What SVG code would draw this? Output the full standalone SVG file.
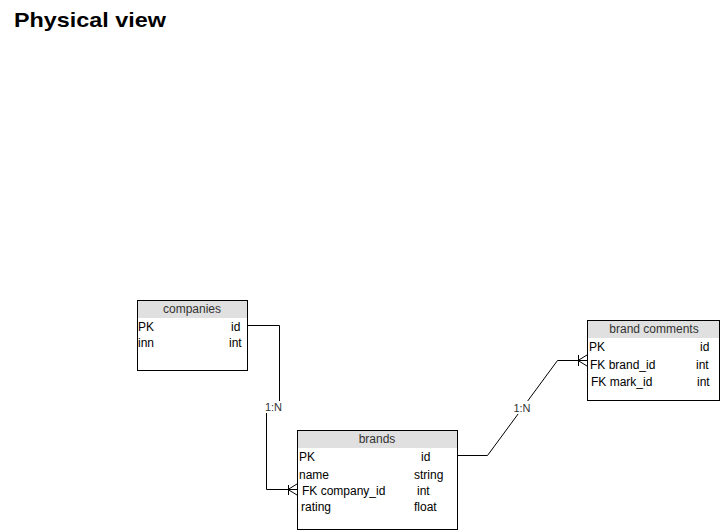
<svg xmlns="http://www.w3.org/2000/svg" width="721" height="531" viewBox="0 0 721 531">
<style>
text{font-family:"Liberation Sans",Arial,sans-serif;font-size:12px;fill:#000}
.hd{fill:#e0e0e0;stroke:none}
.bx{fill:#fff;stroke:#000;stroke-width:1}
.ht{text-anchor:middle;fill:#333}
.lbl{font-size:11px;text-anchor:middle;fill:#333}
.ln{fill:none;stroke:#000;stroke-width:1}
</style>
<rect width="721" height="531" fill="#fff"/>
<text x="14" y="27" style="font-size:21px;font-weight:bold" textLength="152" lengthAdjust="spacingAndGlyphs">Physical view</text>
<g id="companies">
<rect class="bx" x="137.5" y="300.5" width="110" height="70"/>
<rect class="hd" x="138" y="301" width="109" height="17"/>
<line class="ln" x1="137.5" y1="318" x2="137.5" y2="370"/>
<text class="ht" x="192" y="313">companies</text>
<text x="138" y="331">PK</text><text x="231" y="331">id</text>
<text x="138" y="347">inn</text><text x="229" y="347">int</text>
</g>
<g id="brands">
<rect class="bx" x="297.5" y="430.5" width="160" height="99"/>
<rect class="hd" x="298" y="431" width="159" height="17"/>
<text class="ht" x="377" y="443">brands</text>
<text x="299" y="461">PK</text><text x="421" y="461">id</text>
<text x="299" y="479">name</text><text x="414" y="479">string</text>
<text x="302" y="495">FK company_id</text><text x="417" y="495">int</text>
<text x="301" y="511">rating</text><text x="414" y="511">float</text>
</g>
<g id="brand_comments">
<rect class="bx" x="587.5" y="320.5" width="132" height="80"/>
<rect class="hd" x="588" y="321" width="131" height="17"/>
<text class="ht" x="654" y="333">brand comments</text>
<text x="589" y="351">PK</text><text x="700" y="351">id</text>
<text x="590" y="369">FK brand_id</text><text x="696" y="369">int</text>
<text x="591" y="386">FK mark_id</text><text x="697" y="386">int</text>
</g>
<g id="connectors">
<path class="ln" d="M248 325.5 H279.5 V407 H266.5 V489.5 H297"/>
<path class="ln" d="M288.5 485 V495 M288 489.5 L297 484 M288 489.5 L297 495 M288 489.5 H297"/>
<rect x="263" y="401" width="21" height="12" fill="#fff"/>
<text class="lbl" x="273.5" y="411">1:N</text>
<path class="ln" d="M458 455.5 H487.5 L557.5 360.5 H587"/>
<path class="ln" d="M578.5 355 V366 M578 360.5 L587 355 M578 360.5 L587 366"/>
<rect x="511" y="401" width="22" height="13" fill="#fff"/>
<text class="lbl" x="522" y="412">1:N</text>
</g>
</svg>
